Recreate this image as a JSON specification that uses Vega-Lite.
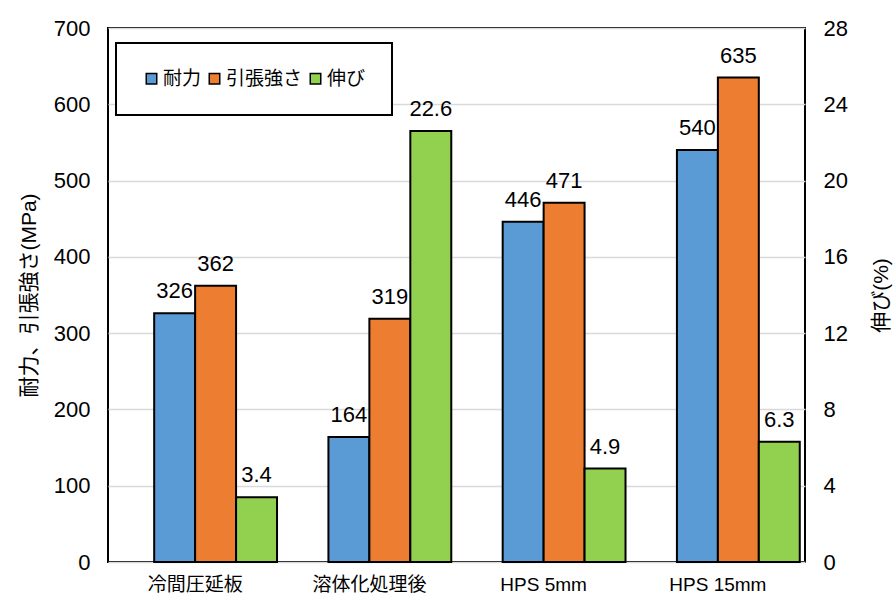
{
  "$schema": "https://vega.github.io/schema/vega-lite/v6.json",
  "width": 697,
  "height": 534,
  "autosize": {"type": "none"},
  "padding": {"left": 108, "top": 28, "right": 88, "bottom": 35},
  "background": "white",
  "config": {
    "view": {"stroke": "black", "strokeWidth": 2},
    "font": "Liberation Sans, Noto Sans CJK JP",
    "legend": {"strokeWidth": 2},
    "axisX": {"labelFontSize": 19, "labelAngle": 0, "domain": false, "ticks": false, "labelPadding": 13, "labelColor": "black", "title": null},
    "axisY": {"domain": false, "ticks": false, "labelFontSize": 22, "labelColor": "black", "labelPadding": 18, "titleFontSize": 21, "titleFontWeight": "normal", "titleColor": "black"}
  },
  "layer": [
    {
      "data": {"values": [
        {"cat": "冷間圧延板", "series": "耐力", "value": 326},
        {"cat": "冷間圧延板", "series": "引張強さ", "value": 362},
        {"cat": "溶体化処理後", "series": "耐力", "value": 164},
        {"cat": "溶体化処理後", "series": "引張強さ", "value": 319},
        {"cat": "HPS 5mm", "series": "耐力", "value": 446},
        {"cat": "HPS 5mm", "series": "引張強さ", "value": 471},
        {"cat": "HPS 15mm", "series": "耐力", "value": 540},
        {"cat": "HPS 15mm", "series": "引張強さ", "value": 635}
      ]},
      "encoding": {
        "x": {"field": "cat", "type": "nominal", "sort": ["冷間圧延板", "溶体化処理後", "HPS 5mm", "HPS 15mm"], "title": null, "scale": {"paddingInner": 0.06, "paddingOuter": 0.03}},
        "xOffset": {"field": "series", "type": "nominal", "scale": {"domain": ["_", "耐力", "引張強さ", "伸び"], "paddingInner": 0, "paddingOuter": 0}},
        "y": {"field": "value", "type": "quantitative", "scale": {"domain": [0, 700]},
              "axis": {"values": [0, 100, 200, 300, 400, 500, 600, 700], "grid": true, "gridColor": "#d9d9d9", "gridWidth": 1.5, "title": "耐力、引張強さ(MPa)", "titlePadding": 14}}
      },
      "layer": [
        {
          "mark": {"type": "bar", "stroke": "black", "strokeWidth": 2},
          "encoding": {
            "color": {"field": "series", "type": "nominal",
              "scale": {"domain": ["耐力", "引張強さ", "伸び"], "range": ["#5b9bd5", "#ed7d31", "#92d050"]},
              "legend": {"orient": "none", "legendX": 8, "legendY": 15, "direction": "horizontal", "title": null,
                         "padding": 26, "strokeColor": "black", "fillColor": "white",
                         "symbolType": "square", "symbolSize": 110, "symbolStrokeColor": "black", "symbolStrokeWidth": 1.5,
                         "labelFontSize": 19, "labelOffset": 2, "columnPadding": 3, "labelColor": "black"}}
          }
        },
        {
          "mark": {"type": "text", "dy": -15, "baseline": "alphabetic", "fontSize": 22, "color": "black"},
          "encoding": {"text": {"field": "value", "type": "quantitative"}}
        }
      ]
    },
    {
      "data": {"values": [
        {"cat": "冷間圧延板", "series": "伸び", "value": 3.4},
        {"cat": "溶体化処理後", "series": "伸び", "value": 22.6},
        {"cat": "HPS 5mm", "series": "伸び", "value": 4.9},
        {"cat": "HPS 15mm", "series": "伸び", "value": 6.3}
      ]},
      "encoding": {
        "x": {"field": "cat", "type": "nominal", "sort": ["冷間圧延板", "溶体化処理後", "HPS 5mm", "HPS 15mm"], "title": null},
        "xOffset": {"field": "series", "type": "nominal"},
        "y": {"field": "value", "type": "quantitative", "scale": {"domain": [0, 28]},
              "axis": {"orient": "right", "values": [0, 4, 8, 12, 16, 20, 24, 28], "grid": false, "title": "伸び(%)", "titleAngle": 270, "titlePadding": 44}}
      },
      "layer": [
        {
          "mark": {"type": "bar", "stroke": "black", "strokeWidth": 2},
          "encoding": {"color": {"field": "series", "type": "nominal"}}
        },
        {
          "mark": {"type": "text", "dy": -15, "baseline": "alphabetic", "fontSize": 22, "color": "black"},
          "encoding": {"text": {"field": "value", "type": "quantitative", "format": ".1f"}}
        }
      ]
    }
  ],
  "resolve": {"scale": {"y": "independent"}}
}
